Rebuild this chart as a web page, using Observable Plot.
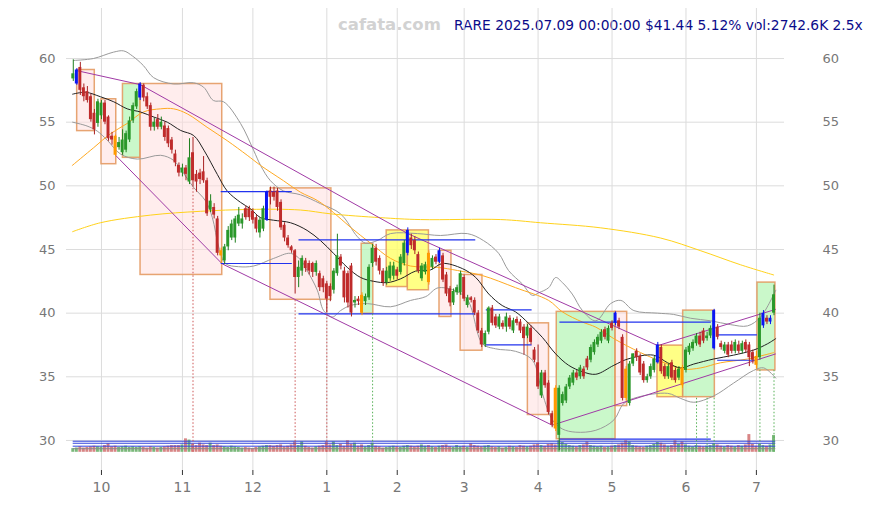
<!DOCTYPE html>
<html><head><meta charset="utf-8">
<script src="https://cdn.jsdelivr.net/npm/d3@7"></script>
<script src="https://cdn.jsdelivr.net/npm/@observablehq/plot@0.6"></script>
<style>
body{margin:0;background:#fff;font-family:"DejaVu Sans",sans-serif;}
#wrap{position:relative;width:872px;height:505px;}
#brand{position:absolute;left:338px;top:15px;font:bold 16.5px "DejaVu Sans";color:#d2d2d2;}
#info{position:absolute;left:454px;top:17px;font:13.8px "DejaVu Sans";color:#0b0b8a;white-space:nowrap;}
#chart{position:absolute;left:0;top:0;}
</style></head><body>
<div id="wrap"><div id="brand">cafata.com</div><div id="info">RARE 2025.07.09 00:00:00 $41.44 5.12% vol:2742.6K 2.5x</div><div id="chart"></div></div>
<script>
// trading-day index 0 = 2024-09-19 ... 199 = 2025-07-09
const O = [58.4,58.0,59.3,57.7,57.4,57.0,55.7,54.9,55.5,56.5, 55.4,53.9,53.9,53.0,52.6,52.8,53.6,55.1,56.2,56.9,
57.9,57.0,56.3,54.6,55.2,54.6,54.7,54.5,53.6,52.5, 51.6,51.0,51.4,50.3,52.6,50.9,51.0,51.1,50.4,48.1,
48.3,47.4,44.9,44.1,45.2,45.9,45.9,47.0,47.0,48.2, 48.2,48.0,47.5,46.3,46.6,47.3,49.6,49.5,49.6,48.7,
46.9,45.9,45.2,44.9,42.8,43.3,44.1,43.9,43.9,43.2, 43.1,42.7,42.3,42.1,41.8,43.1,44.4,43.3,43.1,43.7,
40.8,41.1,41.4,40.9,41.2,43.9,45.1,44.3,43.3,42.4, 42.7,42.9,43.4,43.2,43.9,44.7,45.9,45.7,44.6,42.7,
43.2,44.7,43.6,44.4,44.0,44.5,43.0,41.9,40.8,41.6, 41.6,42.8,40.6,41.2,41.0,40.0,38.6,37.5,38.5,40.4,
39.7,38.9,39.2,38.9,39.6,38.6,39.5,39.3,38.9,38.2, 38.8,37.1,36.1,33.5,35.3,34.5,32.1,34.1,30.4,32.9,
33.1,34.2,34.5,35.3,35.0,35.6,36.4,36.3,36.9,37.5, 37.8,38.7,37.8,39.2,39.2,39.4,38.1,35.6,32.9,36.0,
37.0,36.6,36.0,34.7,35.0,35.5,36.1,37.3,35.8,35.0, 36.1,35.5,34.9,35.7,35.5,36.9,37.2,37.6,38.2,38.6,
38.0,38.2,37.2,38.9,37.6,37.0,37.5,37.5,37.0,37.5, 37.0,37.7,37.5,36.9,36.6,36.5,39.0,39.6,39.3,40.0];
const H = [59.9,59.2,59.7,58.0,57.8,57.2,56.0,56.8,56.7,56.7, 55.5,54.2,54.0,53.8,54.4,54.3,55.4,56.5,57.6,58.1,
58.0,57.3,56.5,55.3,55.6,55.4,55.0,54.7,53.8,52.8, 51.8,51.7,51.6,53.7,53.8,51.2,51.3,52.3,50.6,49.3,
48.6,47.6,45.1,45.4,46.8,47.3,47.6,48.3,47.8,48.4, 48.4,48.2,47.7,47.5,48.4,49.6,49.9,49.9,49.8,48.9,
47.1,46.1,45.3,45.0,44.1,44.5,44.3,44.1,44.0,44.1, 43.3,42.9,42.5,42.3,43.5,46.2,44.6,43.6,43.3,43.9,
41.3,41.3,41.6,41.5,43.8,45.4,45.4,44.5,43.5,43.6, 44.0,44.0,43.6,44.6,45.7,46.7,46.2,46.0,44.8,43.9,
44.0,44.9,44.5,44.6,45.1,44.7,43.2,42.1,41.9,42.2, 43.3,43.0,41.4,41.3,41.2,40.2,38.8,38.6,40.5,40.6,
39.9,39.9,39.4,40.0,39.8,39.6,39.7,39.5,39.1,39.1, 39.0,37.3,37.5,35.5,35.5,34.7,32.3,34.3,34.3,33.8,
34.4,35.1,35.5,35.5,35.9,35.8,36.6,37.5,37.9,38.3, 38.7,38.9,39.0,39.4,40.1,39.6,38.3,35.8,36.2,36.8,
37.2,36.8,36.2,35.2,36.0,36.6,37.7,37.5,36.0,36.0, 36.3,35.7,35.8,35.9,37.3,37.6,37.9,38.4,38.5,38.8,
38.5,39.0,40.3,39.1,37.8,37.7,37.7,37.8,37.9,37.8, 37.8,37.9,37.7,37.1,37.0,40.0,40.2,39.8,39.8,42.2];
const L = [58.2,57.9,57.1,56.6,56.5,55.0,54.0,54.6,55.2,54.8, 53.5,53.2,52.3,52.8,52.4,52.6,53.4,54.9,56.0,56.7,
56.6,56.0,54.3,54.3,54.4,54.4,53.5,53.0,52.5,51.5, 50.7,50.7,50.4,50.1,49.9,49.5,50.1,50.2,47.6,47.9,
47.4,44.5,43.9,43.8,44.9,45.7,45.5,46.8,46.6,47.3, 47.2,47.0,46.3,45.9,46.4,47.2,48.5,48.8,48.0,46.5,
45.6,45.1,44.7,41.5,42.0,42.9,43.2,43.0,42.8,42.9, 41.7,41.6,40.0,40.9,41.5,42.9,43.4,40.8,40.4,39.7,
40.4,40.6,39.8,40.6,41.0,43.6,43.7,43.0,42.1,42.2, 42.5,42.6,42.6,43.0,43.7,44.5,45.0,44.6,43.1,42.5,
43.0,42.2,43.4,43.8,43.9,42.4,41.3,40.5,40.6,41.4, 41.4,40.9,40.4,40.8,39.8,38.4,37.3,37.3,38.3,39.0,
38.8,38.7,38.7,38.5,38.7,38.4,39.0,38.4,36.7,38.0, 37.5,36.1,34.0,33.3,34.1,32.0,31.0,30.7,29.2,32.7,
32.9,34.0,34.3,34.7,34.8,34.8,35.5,36.1,36.7,37.3, 37.6,37.9,37.6,38.6,39.0,38.7,33.1,33.1,32.7,35.8,
36.2,35.1,34.5,34.5,34.8,35.3,36.0,35.2,34.8,34.8, 34.7,34.5,34.7,34.1,35.3,36.7,37.0,37.4,37.3,37.6,
37.8,38.0,37.1,37.9,37.1,36.8,36.5,36.8,36.8,36.8, 36.8,36.9,35.8,36.0,35.6,36.3,38.8,39.1,39.1,39.8];
const C = [58.8,59.1,57.5,57.0,56.7,55.2,54.4,56.6,56.5,55.0, 53.7,53.6,52.4,53.4,53.6,54.1,55.1,56.3,57.4,58.0,
56.9,56.2,54.6,55.0,54.6,55.0,53.8,53.3,52.8,51.8, 51.0,51.4,50.9,52.2,50.4,50.3,50.5,50.4,47.8,48.8,
47.7,44.7,44.5,45.2,46.5,47.0,47.4,47.7,47.4,47.5, 47.5,47.3,46.6,47.3,48.2,49.5,49.1,49.1,48.3,46.7,
45.9,45.3,44.9,42.8,43.6,44.3,43.5,43.3,43.2,43.9, 42.0,42.0,41.1,41.3,43.3,44.5,43.7,41.2,40.8,40.0,
41.0,40.9,40.0,41.3,43.6,45.1,44.0,43.3,42.4,43.3, 43.7,43.7,42.9,44.4,45.5,46.5,45.3,44.9,43.3,43.7,
43.8,42.4,44.3,44.0,44.9,42.6,41.5,40.8,41.7,42.0, 43.1,41.1,41.2,41.0,40.0,38.6,37.5,38.4,40.4,39.2,
39.0,39.7,38.9,39.7,38.9,39.4,39.2,38.6,38.0,38.9, 37.7,36.3,34.2,35.3,34.3,32.2,31.2,30.9,34.1,33.6,
34.2,34.9,35.3,34.9,35.7,35.0,35.7,37.3,37.7,38.1, 38.5,38.1,38.8,38.8,40.0,38.9,33.3,33.3,36.0,36.8,
36.5,35.3,34.7,35.0,35.8,36.4,37.5,35.4,35.0,35.8, 34.9,34.7,35.6,34.3,37.1,37.4,37.7,38.2,37.5,37.8,
38.2,38.8,40.2,38.1,37.3,37.5,36.7,37.0,37.7,37.0, 37.6,37.1,36.5,36.3,35.9,39.6,40.0,39.3,39.6,41.44];
const VOL = [600,700,900,700,800,900,1000,900,800,1100, 1400,900,1000,800,900,1000,800,900,800,900,
800,700,900,800,700,800,900,1000,1100,1100, 1100,1200,2200,2000,1300,1100,1500,1200,1100,1500,
1100,1200,1000,900,800,1000,900,800,700,800, 700,600,800,900,1000,1100,1100,1000,1100,1200,
900,1000,1200,1700,1100,1700,1000,800,700,900, 1000,1100,1700,1200,1700,1100,1300,1000,1900,1300,
1500,1000,1200,900,1100,1500,1000,900,700,800, 900,1000,900,800,1000,1100,1000,900,1000,1200,
1000,1100,900,800,1000,1100,1200,900,800,1100, 900,1000,800,1400,1100,1000,900,1000,1100,900,
800,900,700,800,1000,900,800,1100,1000,900, 1000,1200,1300,1100,1000,1300,1400,1200,1900,1600,
1300,1100,1000,900,1100,1200,1700,1100,1000,900, 1000,800,900,1000,1100,1200,1500,1900,1700,1100,
1000,900,800,1000,1100,1300,1600,1500,1200,1000, 1100,1900,1300,1700,1200,1000,900,1100,1000,900,
1000,1100,1400,1200,1000,900,1100,1000,900,1100, 1000,1200,2900,1300,1000,1300,1100,1000,1200,2742.6];
const blueIdx = [1,19,55,95,104,154,166,182,196,198];
const orangeIdx = [12,42,82,101,137,157,173,194];

const monthTickIdx = [8,31,51,72,92,111,132,153,174,194];
const monthLabels = ["10","11","12","1","2","3","4","5","6","7"];
const priceTicks = [30,35,40,45,50,55,60];

// indicator lines: [dayIndex, price]
const sma20 = [[-0.2,57.2],[3.5,57.35],[7.7,57.0],[11.5,56.6],[15.3,56.05],[19.1,55.8],[22.9,55.4],[26.7,55.0],[30.5,54.35],[34.2,53.95],[37.1,52.8],[40.9,50.9],[43.7,49.6],[47.5,48.7],[50.3,48.2],[53.2,47.5],[56.9,47.3],[61.7,47.1],[66.4,46.5],[70.2,45.7],[73.9,44.7],[77.8,43.6],[81.6,42.8],[85.3,42.5],[89.2,42.4],[93.0,42.7],[97.2,43.3],[101.5,43.4],[104.8,43.9],[110.5,43.5],[114.3,42.8],[118.0,41.5],[121.8,40.6],[125.6,40.1],[129.3,39.2],[133.2,38.1],[137.0,36.8],[140.7,35.9],[144.6,35.4],[148.4,35.2],[153.5,35.9],[157.5,36.4],[164.8,36.7],[168.8,36.1],[172.5,35.7],[176.2,36.0],[181.9,36.4],[187.5,36.7],[193.2,37.1],[197.2,37.6],[199.5,38.0]];
const sma50 = [[-0.3,51.6],[5.8,53.0],[10.6,54.1],[15.3,54.9],[19.9,55.8],[24.8,56.05],[28.5,56.05],[32.4,55.65],[38.0,54.6],[43.7,53.55],[49.4,52.4],[53.2,51.6],[59.7,50.4],[64.5,49.5],[69.3,48.85],[73.9,47.9],[78.7,46.75],[84.4,45.5],[90.1,44.3],[95.8,43.7],[103.4,43.6],[109.1,43.35],[116.2,42.95],[125.6,42.0],[135.0,41.0],[138.9,40.1],[144.6,39.3],[148.4,38.9],[153.5,38.0],[161.1,36.9],[168.8,36.0],[173.3,35.6],[178.2,35.7],[183.8,36.1],[191.5,36.4],[198.9,36.9]];
const sma200 = [[-0.2,46.4],[7.7,47.1],[21.9,47.7],[36.1,48.0],[50.3,48.15],[64.5,48.1],[73.1,47.8],[87.3,47.5],[98.6,47.35],[121.4,47.35],[132.7,47.1],[149.8,46.7],[166.8,45.9],[178.2,44.9],[189.5,43.8],[198.9,43.0]];
const bandUpper = [[0.1,59.85],[5.7,60.0],[11.4,60.5],[14.3,60.6],[16.8,60.2],[19.9,59.45],[22.8,58.5],[28.5,58.0],[34.1,58.1],[37.0,57.75],[39.8,56.7],[42.7,56.6],[47.5,54.9],[51.2,52.8],[53.2,51.6],[56.0,50.4],[59.7,49.6],[64.5,49.3],[70.2,48.6],[75.9,47.8],[80.7,46.0],[83.0,45.5],[86.3,45.7],[90.1,46.25],[97.7,46.25],[104.3,46.1],[111.9,46.25],[116.5,45.7],[120.8,44.7],[123.6,43.35],[127.5,42.3],[130.4,41.4],[132.2,41.6],[135.0,42.0],[137.0,42.8],[138.9,42.4],[141.7,41.5],[144.6,40.2],[148.4,39.4],[152.6,40.75],[155.5,41.0],[159.2,40.2],[165.9,40.0],[170.5,39.9],[175.3,39.6],[181.0,39.4],[186.6,39.1],[191.5,39.0],[195.2,39.7],[199.5,41.8]];
const bandLower = [[-0.2,55.0],[3.9,54.7],[6.8,54.3],[9.6,53.6],[13.4,52.5],[18.2,52.1],[24.8,52.4],[28.5,52.0],[31.3,51.0],[34.1,49.9],[37.6,48.8],[39.5,47.5],[41.3,45.2],[43.2,43.9],[46.9,43.65],[51.2,43.7],[56.9,44.3],[61.7,44.7],[64.5,44.2],[66.4,43.35],[69.3,41.8],[71.1,40.2],[73.6,39.7],[75.9,40.2],[78.7,40.6],[83.5,40.75],[90.1,40.5],[95.8,41.0],[100.1,41.3],[103.8,42.0],[111.4,41.25],[116.2,37.6],[119.9,37.2],[125.6,37.0],[130.4,36.3],[133.2,33.7],[136.1,31.6],[138.9,30.9],[142.7,30.65],[148.4,30.8],[153.5,31.6],[156.3,32.9],[160.3,33.4],[168.8,33.7],[172.5,33.3],[176.2,33.0],[181.9,33.5],[187.5,34.5],[193.2,35.5],[196.1,35.7],[199.5,34.9]];

// zigzag channel lines: [startIdx, startPrice, endIdx, endPrice]
const trendSegs = [[1,59.05,19,57.95],[19,57.95,95,46.25],[95,46.25,166,37.45],[166,37.45,199.5,40.3],
  [12,52.4,42.3,43.87],[42.3,43.87,136,31.2],[136,31.2,199.5,36.8]];
// range boxes: [startIdx, endIdx, top, bottom, kind]
const boxes = [[1.1,6.1,59.1,54.3,"down"],[8.0,12.2,56.8,51.7,"down"],[14.1,19.1,58.0,52.2,"up"],[19.1,42.3,58.0,43.0,"down"],
  [56.0,73.3,49.8,41.05,"down"],[81.9,85.2,45.45,39.95,"up"],[89.0,95.0,46.5,42.05,"flat"],[95.0,101.0,46.5,41.8,"flat"],
  [104.0,107.4,44.9,39.7,"down"],[110.0,116.2,43.0,37.05,"down"],[129.1,135.1,39.2,32.0,"down"],[137.3,154.0,40.1,30.1,"up"],
  [154.0,157.3,40.1,32.7,"down"],[165.9,173.2,37.45,33.4,"flat"],[173.2,182.2,40.2,33.4,"up"],[194.3,199.4,42.4,35.5,"up"]];
// support / resistance segments: [startIdx, endIdx, price]
const levels = [[42,62.2,49.55],[42,62.2,43.9],[64.1,114.3,45.75],[64.1,114.3,39.95],[117.3,130.3,40.26],[117.3,130.3,37.5],
  [138.2,181.2,39.3],[138.2,181.2,30.1],[183,194.3,38.3],[183,194.3,36.3]];
// signal markers: [dayIndex, fromPrice, kind]
const markers = [[34,49.9,"down"],[63,41.05,"down"],[72,41.05,"down"],[85,39.95,"up"],[177,33.4,"up"],[180,33.4,"up"],[182,33.4,"up"],[195,35.5,"up"],[199,35.5,"up"]];
const volLevels = [29.94,29.78,29.55];
const volAvgLevel = 29.35;
const volBase = 29.07;

const idx = d3.range(C.length);
const candles = idx.map(i => ({i, o:O[i], h:H[i], l:L[i], c:C[i], v:VOL[i],
  kind: blueIdx.includes(i) ? "blue" : orangeIdx.includes(i) ? "orange" : (C[i] >= O[i] ? "up" : "down")}));
const bodyCol = {up:"#2a982a", down:"#bf2b2b", blue:"#0b16f2", orange:"#ff9a00"};
const wickCol = {up:"#1f7f1f", down:"#a82222", blue:"#0b16f2", orange:"#ff9a00"};
const boxFill = {up:"#b8f5b8", down:"#ffdede", flat:"#ffff66"};
const boxOp = {up:0.75, down:0.55, flat:0.8};
const volScale = 0.00048; // price units per 1K shares on the volume strip

const toPts = a => a.map(([i,v]) => ({i, v}));
const chart = Plot.plot({
  width: 872, height: 505,
  marginLeft: 66, marginRight: 88, marginTop: 8, marginBottom: 35,
  style: {background: "transparent", fontFamily: "DejaVu Sans, sans-serif", fontSize: "13px"},
  x: {type: "linear", domain: [-1.93, 201.98], axis: null, label: null},
  y: {domain: [27.64, 63.93], axis: null, label: null},
  marks: [
    Plot.gridX(monthTickIdx, {stroke: "#dcdcdc", strokeOpacity: 1}),
    Plot.gridY(priceTicks, {stroke: "#dcdcdc", strokeOpacity: 1}),
    Plot.rect(boxes, {x1: d => d[0], x2: d => d[1], y1: d => d[3], y2: d => d[2],
      fill: d => boxFill[d[4]], fillOpacity: d => boxOp[d[4]], stroke: "#e3955a", strokeOpacity: 0.85, strokeWidth: 1.5}),
    Plot.rect(candles, {x1: d => d.i - 0.42, x2: d => d.i + 0.42, y1: volBase, y2: d => volBase + d.v * volScale,
      fill: d => (d.c >= d.o ? "#6cb06c" : "#d47878"), fillOpacity: 0.9}),
    Plot.ruleY(volLevels, {x1: -0.03, x2: 199.5, stroke: "#3344dd", strokeWidth: 1}),
    Plot.ruleY([volAvgLevel], {x1: -0.03, x2: 199.5, stroke: "#888", strokeWidth: 1}),
    Plot.line(toPts(bandUpper), {x: "i", y: "v", stroke: "#9a9a9a", strokeWidth: 1, curve: "catmull-rom"}),
    Plot.line(toPts(bandLower), {x: "i", y: "v", stroke: "#9a9a9a", strokeWidth: 1, curve: "catmull-rom"}),
    Plot.line(toPts(sma200), {x: "i", y: "v", stroke: "#ffd21a", strokeWidth: 1, curve: "catmull-rom"}),
    Plot.line(toPts(sma50), {x: "i", y: "v", stroke: "#ffaa22", strokeWidth: 1, curve: "catmull-rom"}),
    Plot.line(toPts(sma20), {x: "i", y: "v", stroke: "#222", strokeWidth: 1, curve: "catmull-rom"}),
    Plot.link(trendSegs, {x1: d => d[0], y1: d => d[1], x2: d => d[2], y2: d => d[3], stroke: "#a03aa6", strokeWidth: 1}),
    Plot.ruleY(levels, {x1: d => d[0], x2: d => d[1], y: d => d[2], stroke: "#2233ee", strokeWidth: 1.2}),
    Plot.ruleX(markers, {x: d => d[0], y1: volBase, y2: d => d[1], stroke: d => d[2] === "up" ? "#55b055" : "#cc5555",
      strokeWidth: 1, strokeDasharray: "1.5,2"}),
    Plot.ruleX(candles, {x: "i", y1: "l", y2: "h", stroke: d => wickCol[d.kind], strokeWidth: 1}),
    Plot.rect(candles, {x1: d => d.i - 0.42, x2: d => d.i + 0.42,
      y1: d => Math.min(d.o, d.c), y2: d => Math.max(d.o, d.c) + (Math.abs(d.o - d.c) < 0.08 ? 0.08 : 0),
      fill: d => bodyCol[d.kind]}),
    Plot.axisX(monthTickIdx, {anchor: "bottom", label: null, tickFormat: d => monthLabels[monthTickIdx.indexOf(d)],
      tickSize: 5, tickPadding: 7, stroke: "#333", fill: "#777", fontSize: 14}),
    Plot.axisY(priceTicks, {anchor: "left", label: null, tickSize: 0, tickPadding: 11, fill: "#777", fontSize: 13}),
    Plot.axisY(priceTicks, {anchor: "right", label: null, tickSize: 0, tickPadding: 38, fill: "#777", fontSize: 13})
  ]
});
document.getElementById("chart").appendChild(chart);
</script></body></html>
